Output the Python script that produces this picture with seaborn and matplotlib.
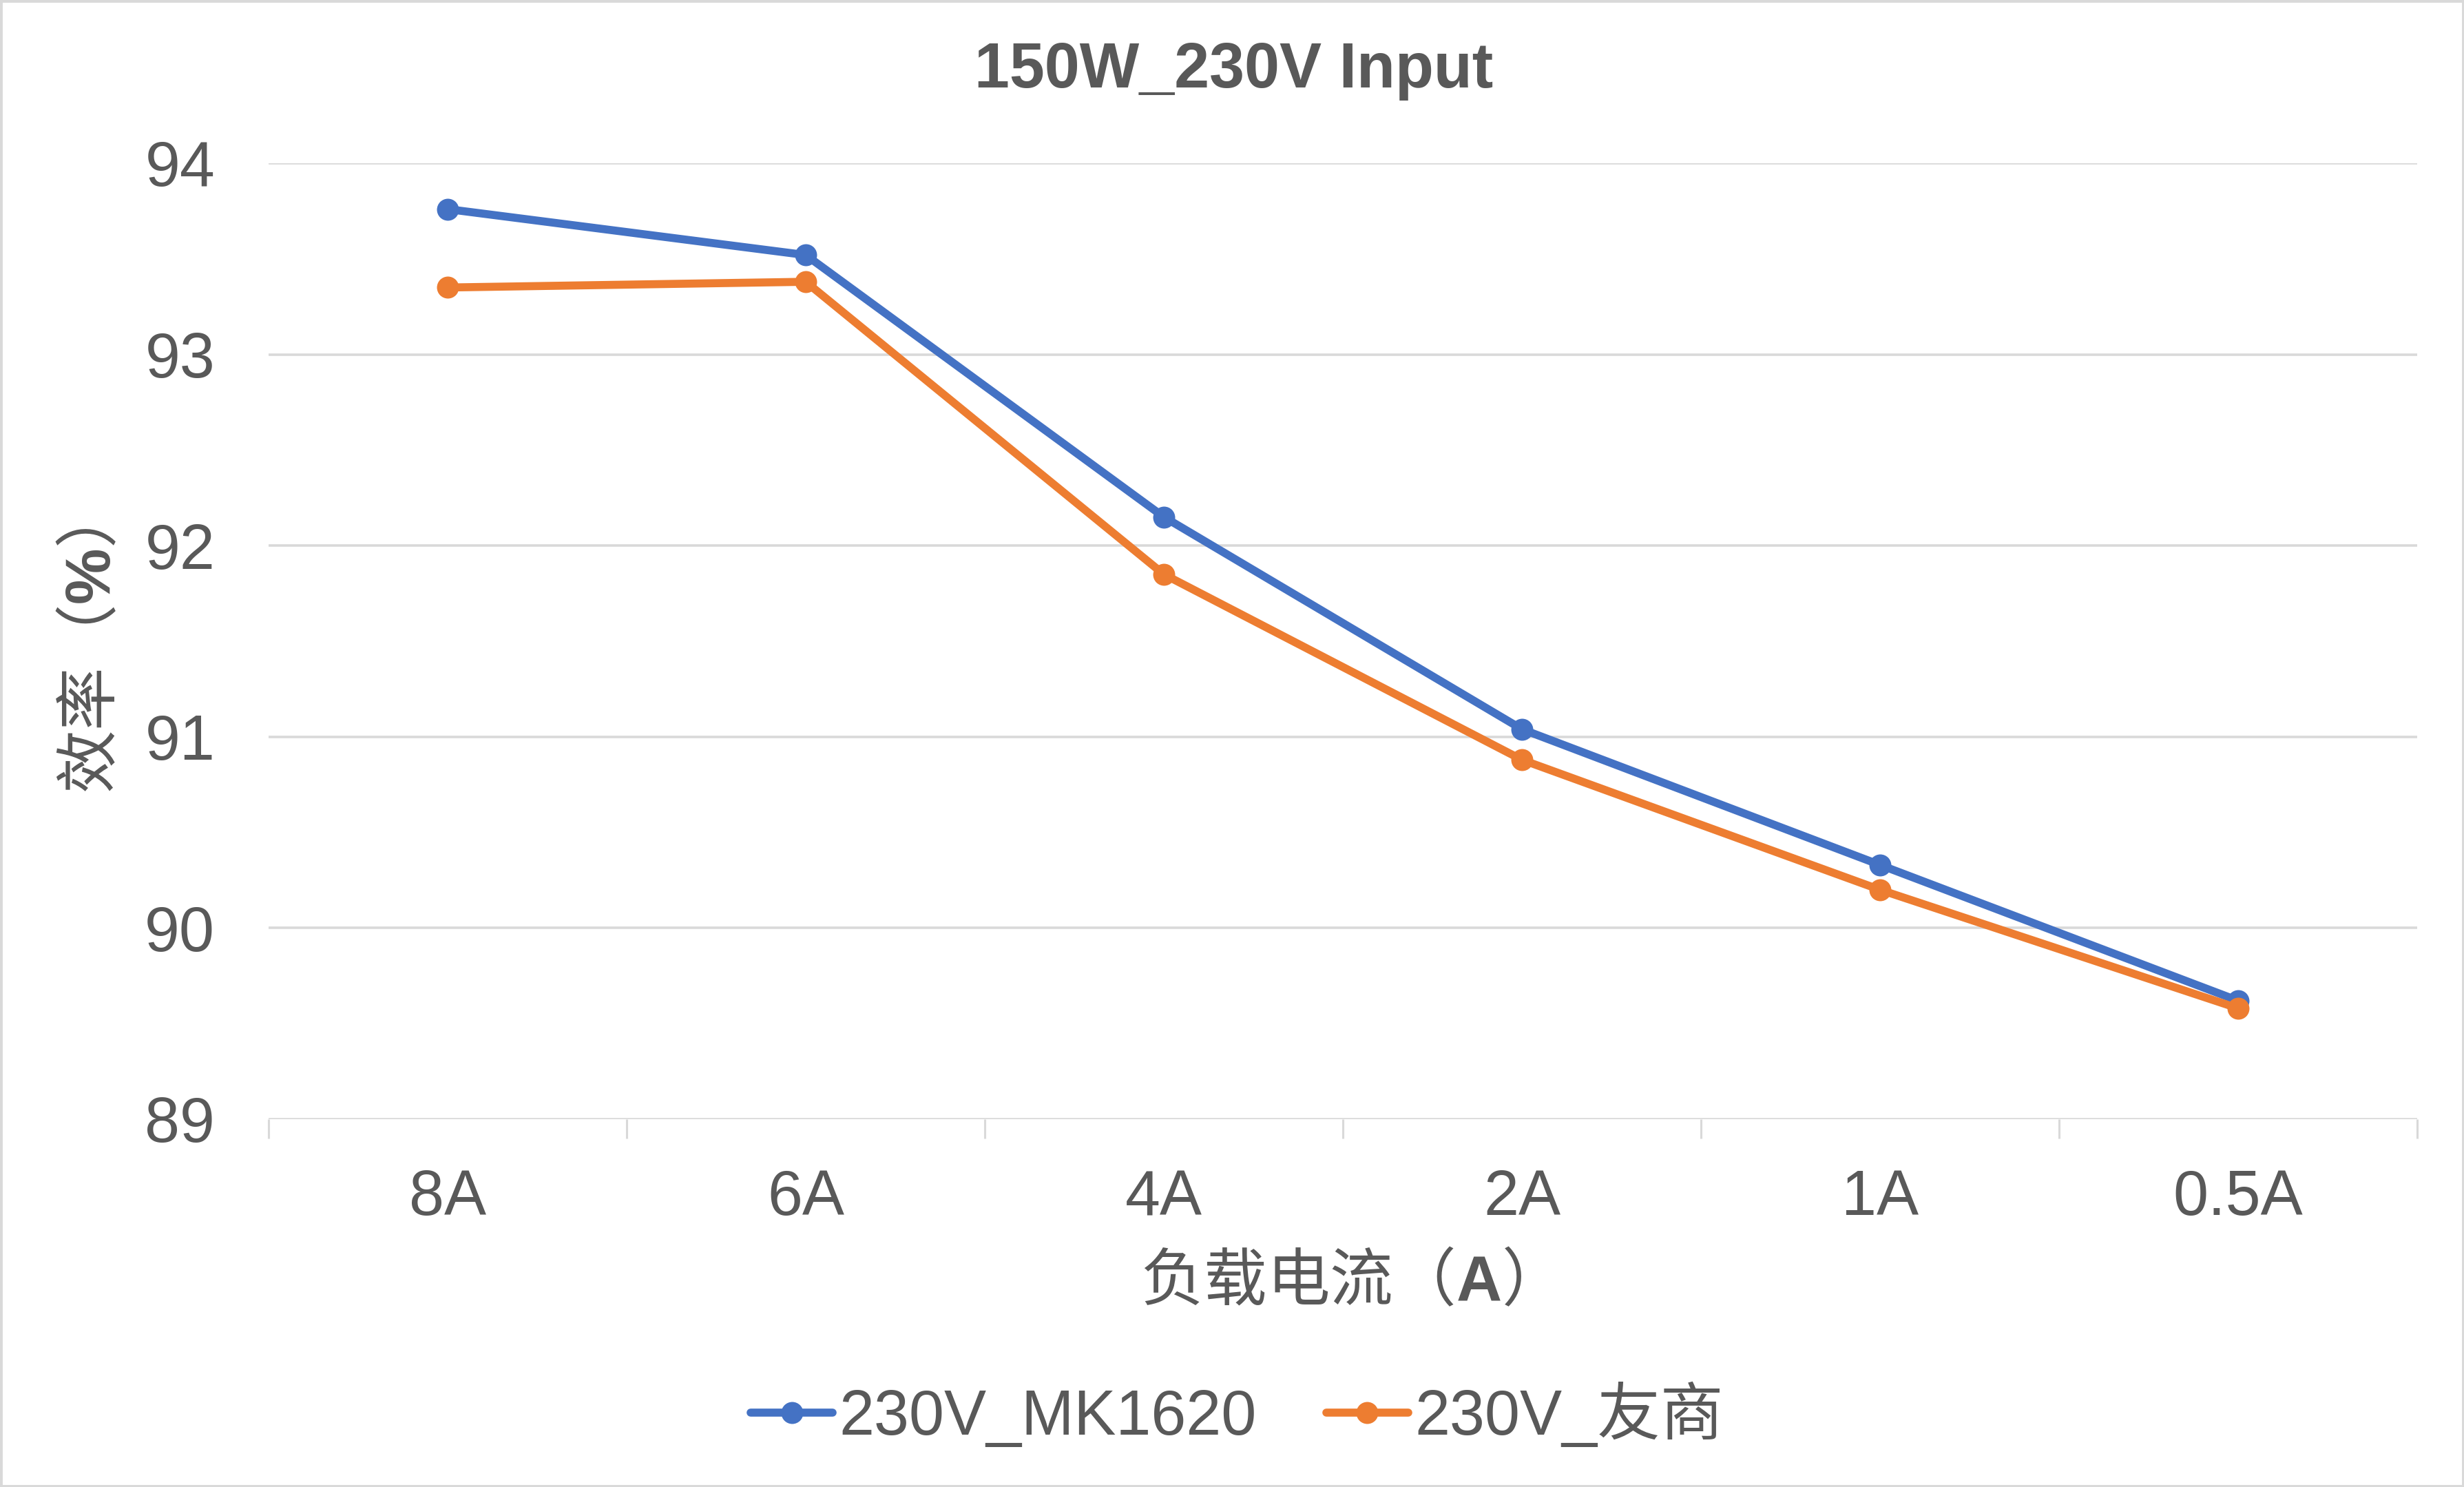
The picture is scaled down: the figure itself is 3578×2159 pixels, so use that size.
import pandas as pd
import matplotlib.pyplot as plt
import seaborn as sns
from matplotlib.patches import Rectangle

sns.set_theme(style="white")
plt.rcParams['font.family'] = ['Liberation Sans', 'Noto Sans CJK SC']
plt.rcParams['mathtext.fontset'] = 'custom'
plt.rcParams['mathtext.rm'] = 'Liberation Sans'
plt.rcParams['mathtext.bf'] = 'Liberation Sans:bold'

# dados
correntes = ['8A', '6A', '4A', '2A', '1A', '0.5A']
serie_mk = [93.76, 93.52, 92.15, 91.04, 90.33, 89.62]
serie_ys = [93.35, 93.38, 91.85, 90.88, 90.20, 89.58]
nomes = ['230V_MK1620', '230V_友商']
cores = ['#4472C4', '#ED7D31']
y_ticks = [89, 90, 91, 92, 93, 94]

df = pd.concat([
    pd.DataFrame({'Corrente': correntes, 'Eficiencia': serie_mk, 'Serie': nomes[0]}),
    pd.DataFrame({'Corrente': correntes, 'Eficiencia': serie_ys, 'Serie': nomes[1]}),
])

texto = '#595959'
fs = 33
lw = 4.2
ms = 11.5

fig = plt.figure(figsize=(3578 / 200, 2159 / 200), dpi=200)
ax = fig.add_axes([390 / 3578, 1 - 1625 / 2159, 3120 / 3578, 1388 / 2159])

sns.lineplot(data=df, x='Corrente', y='Eficiencia', hue='Serie', palette=cores,
             marker='o', markersize=ms, markeredgewidth=0, linewidth=lw,
             sort=False, ax=ax, legend=False)

ax.set_xlim(-0.5, len(correntes) - 0.5)
ax.set_ylim(89, 94)
ax.set_yticks(y_ticks)
ax.set_xticks(range(len(correntes)))
ax.set_xticklabels(correntes)
ax.set_xticks([i - 0.5 for i in range(len(correntes) + 1)], minor=True)

ax.grid(axis='y', color='#D9D9D9', linewidth=1.3)
ax.set_axisbelow(True)
for s in ['top', 'right', 'left', 'bottom']:
    ax.spines[s].set_visible(False)

ax.tick_params(axis='x', which='major', length=0, pad=26, labelsize=fs, labelcolor=texto)
ax.tick_params(axis='x', which='minor', length=10, width=1.1, color='#D9D9D9', bottom=True)
ax.tick_params(axis='y', length=0, pad=28, labelsize=fs, labelcolor=texto)

# texto misto: CJK na fonte Noto, parte em negrito via mathtext
ax.set_xlabel('负载电流（$\\mathbf{A}$）', fontsize=fs, color=texto, va='center',
              family='Noto Sans CJK SC')
ax.xaxis.set_label_coords(0.4946, -0.171)
ax.set_ylabel('效率（$\\mathbf{\\%}$）', fontsize=fs, color=texto, va='center',
              family='Noto Sans CJK SC')
ax.yaxis.set_label_coords(-0.082, 0.48)

fig.text(0.5006, 1 - 103 / 2159, '150W_230V Input', fontsize=fs, fontweight='bold',
         color=texto, ha='center', va='center')

handles = [plt.Line2D([], [], color=c, marker='o', markersize=ms, markeredgewidth=0,
                      linewidth=lw) for c in cores]
fig.legend(handles, nomes, loc='center', bbox_to_anchor=(0.502, 0.0486), ncol=2,
           frameon=False, fontsize=fs, labelcolor=texto, handlelength=1.3,
           handletextpad=0.1, columnspacing=1.1)

fig.patches.append(Rectangle((0, 0), 1, 1, transform=fig.transFigure, fill=False,
                             edgecolor='#D9D9D9', linewidth=2.5))

fig.savefig('out.png', dpi=200, facecolor='white')
